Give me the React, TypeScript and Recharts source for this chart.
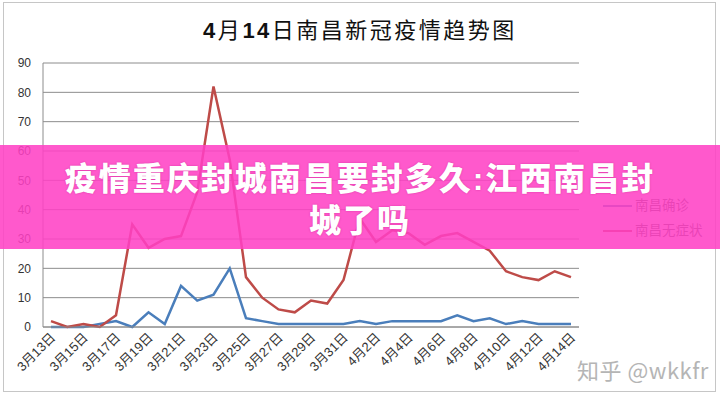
import React from 'react';
import { LineChart, Line, XAxis, YAxis, CartesianGrid, Legend } from 'recharts';

const dates = [
  '3月13日', '3月14日', '3月15日', '3月16日', '3月17日', '3月18日', '3月19日', '3月20日',
  '3月21日', '3月22日', '3月23日', '3月24日', '3月25日', '3月26日', '3月27日', '3月28日',
  '3月29日', '3月30日', '3月31日', '4月1日', '4月2日', '4月3日', '4月4日', '4月5日',
  '4月6日', '4月7日', '4月8日', '4月9日', '4月10日', '4月11日', '4月12日', '4月13日', '4月14日',
];
const confirmed = [0, 0, 0, 1, 2, 0, 5, 1, 14, 9, 11, 20, 3, 2, 1, 1, 1, 1, 1, 2, 1, 2, 2, 2, 2, 4, 2, 3, 1, 2, 1, 1, 1];
const asymptomatic = [2, 0, 1, 0, 4, 35, 27, 30, 31, 46, 82, 57, 17, 10, 6, 5, 9, 8, 16, 37, 29, 33, 32, 28, 31, 32, 29, 26, 19, 17, 16, 19, 17];
const yTicks = [0, 10, 20, 30, 40, 50, 60, 70, 80, 90];

const seriesNames = { confirmed: '南昌确诊', asymptomatic: '南昌无症状' };
const seriesOrder = ['confirmed', 'asymptomatic'];
const titleParts = [
  { text: '4', bold: true },
  { text: '月', bold: false },
  { text: '14', bold: true },
  { text: '日南昌新冠疫情趋势图', bold: false },
];
const bannerLines = ['疫情重庆封城南昌要封多久:江西南昌封', '城了吗'];
const watermark = '知乎 @wkkfr';

const data = dates.map((d, i) => ({ date: d, confirmed: confirmed[i], asymptomatic: asymptomatic[i] }));

const BLUE = '#4A7EBB';
const RED = '#BE4B48';
const FONT = '"Liberation Sans", "Noto Sans CJK SC", sans-serif';

const XTick = (props: any) => {
  const { x, y, payload } = props;
  const ax = x + 2;
  const ay = y + 8;
  return (
    <text
      x={ax}
      y={ay}
      transform={`rotate(-45 ${ax} ${ay})`}
      textAnchor="end"
      dy="0.35em"
      fontSize={13}
      fill="#333"
      fontFamily={FONT}
    >
      {payload.value}
    </text>
  );
};

const renderLegend = (props: any) => {
  const payload = [...(props.payload || [])].sort(
    (a: any, b: any) => seriesOrder.indexOf(a.dataKey) - seriesOrder.indexOf(b.dataKey)
  );
  return (
    <div>
      {payload.map((p: any) => (
        <div key={p.value} style={{ display: 'flex', alignItems: 'center', height: 25 }}>
          <div style={{ width: 29, height: 0, borderTop: `2.5px solid ${p.color}`, marginRight: 3 }} />
          <span style={{ fontSize: 13.5, lineHeight: '16px', color: '#595959', fontFamily: FONT }}>{p.value}</span>
        </div>
      ))}
    </div>
  );
};

export default function App() {
  return (
    <div style={{ position: 'fixed', left: 0, top: 0, width: 720, height: 395, background: '#fff', overflow: 'hidden' }}>
      <div
        style={{
          position: 'absolute', left: 3, top: 2, width: 711, height: 388,
          border: '1px solid #c6c6c6',
        }}
      />
      <div
        style={{
          position: 'absolute', left: 0, top: 17, width: 720, textAlign: 'center',
          fontSize: 22, lineHeight: '28px', color: '#111', letterSpacing: 2.5,
          fontFamily: FONT,
        }}
      >
        {titleParts.map((t, i) => (
          <span key={i} style={{ fontWeight: t.bold ? 700 : 400 }}>{t.text}</span>
        ))}
      </div>
      <div style={{ position: 'absolute', left: 0, top: 0 }}>
        <LineChart
          width={720}
          height={395}
          data={data}
          margin={{ top: 63, right: 141, bottom: 8, left: 0 }}
          style={{ fontFamily: FONT }}
        >
          <CartesianGrid vertical={false} stroke="#8c8c8c" strokeWidth={1} />
          <XAxis
            dataKey="date"
            interval={1}
            height={60}
            padding={{ left: 8, right: 8 }}
            tickLine={false}
            tickSize={0}
            tickMargin={0}
            axisLine={{ stroke: '#8c8c8c' }}
            tick={<XTick />}
          />
          <YAxis
            width={43}
            domain={[0, 90]}
            ticks={yTicks}
            tickLine={false}
            tickSize={0}
            tickMargin={12}
            axisLine={{ stroke: '#8c8c8c' }}
            tick={{ fontSize: 12, fill: '#333' }}
          />
          <Legend
            layout="vertical"
            align="center"
            verticalAlign="middle"
            itemSorter={null as any}
            content={renderLegend}
            wrapperStyle={{ left: 603, top: 193, width: 115 }}
          />
          <Line
            type="linear"
            dataKey="confirmed"
            name={seriesNames.confirmed}
            stroke={BLUE}
            strokeWidth={2.5}
            dot={false}
            isAnimationActive={false}
          />
          <Line
            type="linear"
            dataKey="asymptomatic"
            name={seriesNames.asymptomatic}
            stroke={RED}
            strokeWidth={2.5}
            dot={false}
            isAnimationActive={false}
          />
        </LineChart>
      </div>
      <div
        style={{
          position: 'absolute', left: 577, top: 353, fontSize: 22, color: '#b5b5b5',
          fontFamily: '"Noto Sans CJK SC", sans-serif', letterSpacing: 0.5,
          textShadow: '0 0 2px #fff', whiteSpace: 'nowrap',
        }}
      >
        {watermark}
      </div>
      <div
        style={{
          position: 'absolute', left: 0, top: 145, width: 720, height: 104,
          background: 'rgba(255, 64, 196, 0.87)', zIndex: 10,
        }}
      >
        {bannerLines.map((line, i) => (
          <div
            key={i}
            style={{
              position: 'absolute', left: 0, width: 720, top: i === 0 ? 18 : 60,
              textAlign: 'center', fontSize: 32, lineHeight: '32px', fontWeight: 900,
              color: '#fff', letterSpacing: 2, whiteSpace: 'nowrap',
              fontFamily: '"Liberation Sans", "Noto Sans CJK SC", sans-serif',
              textShadow: '0 0 2px rgba(170, 0, 110, 0.45)',
            }}
          >
            {line}
          </div>
        ))}
      </div>
    </div>
  );
}
